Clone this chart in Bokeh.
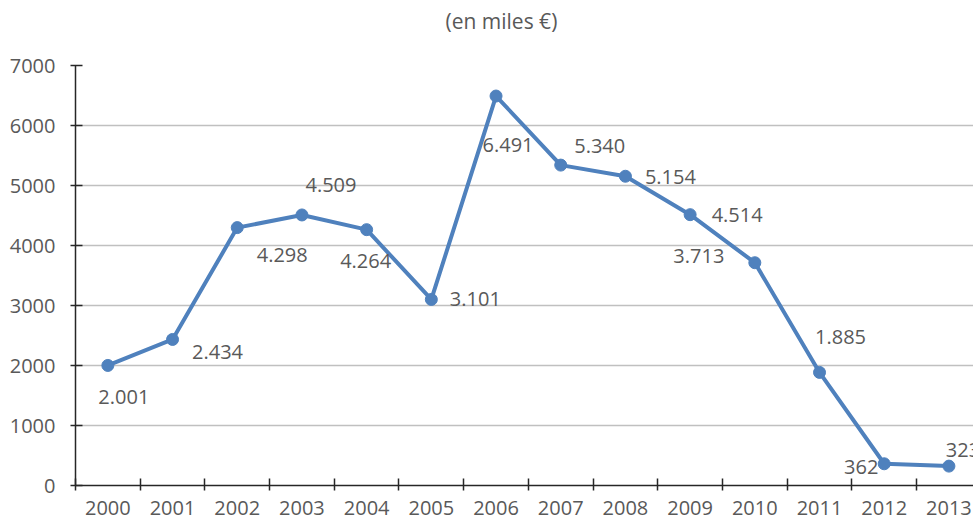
from bokeh.plotting import figure
from bokeh.models import Range1d, FixedTicker, ColumnDataSource, Title
from bokeh.core.properties import value
from bokeh.embed import file_html
from bokeh.resources import INLINE

# ---- data ----
years = ["2000", "2001", "2002", "2003", "2004", "2005", "2006",
         "2007", "2008", "2009", "2010", "2011", "2012", "2013"]
values = [2001, 2434, 4298, 4509, 4264, 3101, 6491,
          5340, 5154, 4514, 3713, 1885, 362, 323]
value_labels = ["2.001", "2.434", "4.298", "4.509", "4.264", "3.101", "6.491",
                "5.340", "5.154", "4.514", "3.713", "1.885", "362", "323"]
y_ticks = [0, 1000, 2000, 3000, 4000, 5000, 6000, 7000]
title_text = "(en miles €)"

# ---- label placement (screen px offsets from each point) ----
label_dx = [16, 45, 45, 29, -1, 44, 12, 39, 45, 47, -56, 21, -23, 14]
label_dy = [32, 13, 27, -30, 31, 0, 49, -19, 1, 0, -7, -35, 3, -16]

BLUE = "#4f81bd"
GREY = "#595959"
FONT = "Open Sans"

n = len(years)
xs = [i + 0.5 for i in range(n)]

src = ColumnDataSource(dict(x=xs, y=values, lab=value_labels,
                            dx=label_dx, dy=label_dy))

p = figure(width=973, height=521, output_backend="svg", toolbar_location=None,
           x_range=Range1d(0, 13.88), y_range=Range1d(0, 7000),
           min_border_left=75, min_border_right=0, min_border_top=65,
           min_border_bottom=36)
p.outline_line_color = None
p.background_fill_color = "white"
p.border_fill_color = "white"

p.title.text = title_text
p.title.align = "left"
p.title.offset = 370
p.title.vertical_align = "top"
p.title.standoff = 4
p.title.text_font = FONT
p.title.text_font_size = "21px"
p.title.text_font_style = "normal"
p.title.text_color = GREY

# blank spacer between the title and the plot area
p.add_layout(Title(text=" ", text_font=FONT, text_font_size="10px",
                   standoff=11), "above")

# x axis: labels at category centres, ticks at category boundaries
xa = p.xaxis[0]
xa.ticker = FixedTicker(ticks=xs, minor_ticks=list(range(n + 1)))
xa.major_label_overrides = {x: y for x, y in zip(xs, years)}
xa.major_tick_in = 0
xa.major_tick_out = 0
xa.minor_tick_in = 7
xa.minor_tick_out = 5
xa.minor_tick_line_color = "#262626"
xa.minor_tick_line_width = 1.5
xa.axis_line_color = "#262626"
xa.axis_line_width = 1.5
xa.major_label_text_font = FONT
xa.major_label_text_font_size = "20px"
xa.major_label_text_color = GREY
xa.major_label_standoff = 10

ya = p.yaxis[0]
ya.ticker = FixedTicker(ticks=y_ticks, minor_ticks=[])
ya.major_tick_in = 7
ya.major_tick_out = 5
ya.major_tick_line_color = "#262626"
ya.major_tick_line_width = 1.5
ya.axis_line_color = "#262626"
ya.axis_line_width = 1.5
ya.major_label_text_font = FONT
ya.major_label_text_font_size = "20px"
ya.major_label_text_color = GREY
ya.major_label_standoff = 15

p.xgrid.visible = False
p.ygrid.ticker = FixedTicker(ticks=y_ticks)
p.ygrid.grid_line_color = "#c0c0c0"
p.ygrid.grid_line_width = 1.3

p.line("x", "y", source=src, line_color=BLUE, line_width=4)
p.scatter("x", "y", source=src, size=12, fill_color=BLUE, line_color=BLUE)

p.text("x", "y", text="lab", source=src, x_offset="dx", y_offset="dy",
       text_align="center", text_baseline="middle",
       text_font=value(FONT), text_font_size="20px", text_color=GREY)

open("out.html", "w").write(file_html(p, INLINE))
